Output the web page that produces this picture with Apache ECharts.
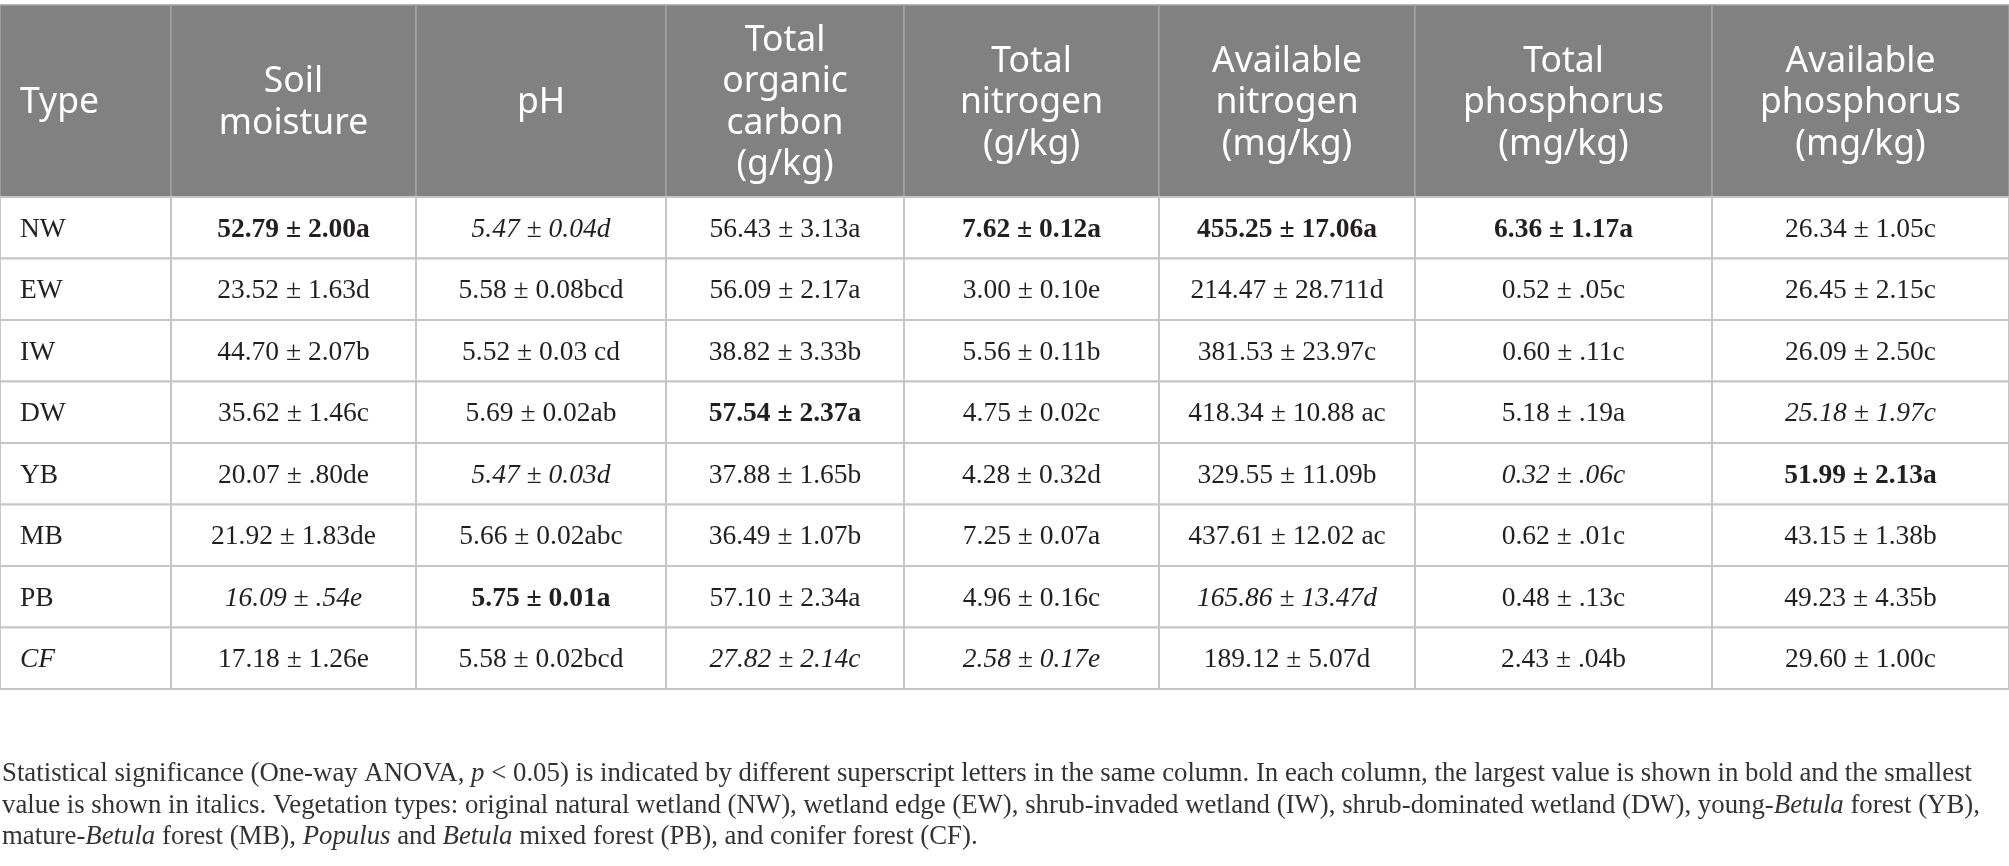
<!DOCTYPE html>
<html>
<head>
<meta charset="utf-8">
<script src="https://cdn.jsdelivr.net/npm/echarts@6/dist/echarts.min.js"></script>
<style>
  html, body { margin: 0; padding: 0; background: #fff; }
  #chart { width: 2009px; height: 866px; }
</style>
</head>
<body>
<div id="chart"></div>
<script>
// row labels and header texts
const types = ['NW', 'EW', 'IW', 'DW', 'YB', 'MB', 'PB', 'CF'];
const headers = ['Type', 'Soil\nmoisture', 'pH', 'Total\norganic\ncarbon\n(g/kg)', 'Total\nnitrogen\n(g/kg)',
  'Available\nnitrogen\n(mg/kg)', 'Total\nphosphorus\n(mg/kg)', 'Available\nphosphorus\n(mg/kg)'];

// means, sd and significance letters per column
const soilMoisture = [52.79, 23.52, 44.70, 35.62, 20.07, 21.92, 16.09, 17.18];
const soilMoistureSd = ['2.00', '1.63', '2.07', '1.46', '.80', '1.83', '.54', '1.26'];
const soilMoistureSig = ['a', 'd', 'b', 'c', 'de', 'de', 'e', 'e'];

const pH = [5.47, 5.58, 5.52, 5.69, 5.47, 5.66, 5.75, 5.58];
const pHSd = ['0.04', '0.08', '0.03', '0.02', '0.03', '0.02', '0.01', '0.02'];
const pHSig = ['d', 'bcd', ' cd', 'ab', 'd', 'abc', 'a', 'bcd'];

const organicCarbon = [56.43, 56.09, 38.82, 57.54, 37.88, 36.49, 57.10, 27.82];
const organicCarbonSd = ['3.13', '2.17', '3.33', '2.37', '1.65', '1.07', '2.34', '2.14'];
const organicCarbonSig = ['a', 'a', 'b', 'a', 'b', 'b', 'a', 'c'];

const totalN = [7.62, 3.00, 5.56, 4.75, 4.28, 7.25, 4.96, 2.58];
const totalNSd = ['0.12', '0.10', '0.11', '0.02', '0.32', '0.07', '0.16', '0.17'];
const totalNSig = ['a', 'e', 'b', 'c', 'd', 'a', 'c', 'e'];

const availN = [455.25, 214.47, 381.53, 418.34, 329.55, 437.61, 165.86, 189.12];
const availNSd = ['17.06', '28.711', '23.97', '10.88', '11.09', '12.02', '13.47', '5.07'];
const availNSig = ['a', 'd', 'c', ' ac', 'b', ' ac', 'd', 'd'];

const totalP = [6.36, 0.52, 0.60, 5.18, 0.32, 0.62, 0.48, 2.43];
const totalPSd = ['1.17', '.05', '.11', '.19', '.06', '.01', '.13', '.04'];
const totalPSig = ['a', 'c', 'c', 'a', 'c', 'c', 'c', 'b'];

const availP = [26.34, 26.45, 26.09, 25.18, 51.99, 43.15, 49.23, 29.60];
const availPSd = ['1.05', '2.15', '2.50', '1.97', '2.13', '1.38', '4.35', '1.00'];
const availPSig = ['c', 'c', 'c', 'c', 'a', 'b', 'b', 'c'];

// layout (px)
const colWidths = [171, 245, 250, 238, 255, 256, 297, 297];
const italicTypes = ['CF'];

const columns = [
  [soilMoisture, soilMoistureSd, soilMoistureSig],
  [pH, pHSd, pHSig],
  [organicCarbon, organicCarbonSd, organicCarbonSig],
  [totalN, totalNSd, totalNSig],
  [availN, availNSd, availNSig],
  [totalP, totalPSd, totalPSig],
  [availP, availPSd, availPSig]
];

const edges = [0];
colWidths.forEach(w => edges.push(edges[edges.length - 1] + w));
const totalW = edges[edges.length - 1];

const serif = '"Liberation Serif", "DejaVu Serif", serif';
const sans = '"Noto Sans", "Open Sans", sans-serif';

// cell data: [col, row]
const bodyData = [];
types.forEach((t, r) => {
  for (let c = 0; c < colWidths.length; c++) bodyData.push([c, r]);
});

function cellText(c, r) {
  if (c === 0) return types[r];
  const col = columns[c - 1];
  return col[0][r].toFixed(2) + ' \u00b1 ' + col[1][r] + col[2][r];
}
// largest mean bold, smallest italic
function cellStyle(c, r) {
  if (c === 0) return { weight: 'normal', style: italicTypes.includes(types[r]) ? 'italic' : 'normal' };
  const vals = columns[c - 1][0];
  const v = vals[r];
  if (v === Math.max(...vals)) return { weight: 'bold', style: 'normal' };
  if (v === Math.min(...vals)) return { weight: 'normal', style: 'italic' };
  return { weight: 'normal', style: 'normal' };
}

function cellBox(api, c) {
  const r = api.value(1);
  const p0 = api.coord([edges[c], r]);
  const p1 = api.coord([edges[c + 1], r]);
  const h = api.size([0, 1])[1];
  return { x: p0[0], y: p0[1] - h / 2, w: p1[0] - p0[0], h: h, cy: p0[1] };
}

const noteSize = 26.8;
const noteRich = { i: { fontStyle: 'italic', fontFamily: serif, fontSize: noteSize } };

const chart = echarts.init(document.getElementById('chart'));
chart.setOption({
  animation: false,
  grid: [
    { left: 0, right: 0, top: 5, height: 192 },
    { left: 0, right: 0, top: 197, height: 492 }
  ],
  xAxis: [
    { gridIndex: 0, type: 'value', min: 0, max: totalW, show: false },
    { gridIndex: 1, type: 'value', min: 0, max: totalW, show: false }
  ],
  yAxis: [
    { gridIndex: 0, type: 'category', data: ['head'], show: false },
    { gridIndex: 1, type: 'category', data: types, inverse: true, show: false }
  ],
  series: [
    {
      type: 'custom',
      xAxisIndex: 0, yAxisIndex: 0,
      data: headers.map((h, i) => [i, 0]),
      renderItem: function (params, api) {
        const c = api.value(0);
        const b = cellBox(api, c);
        return {
          type: 'group',
          children: [
            { type: 'rect', shape: { x: b.x, y: b.y, width: b.w, height: b.h },
              style: { fill: '#808180', stroke: '#a3a3a3', lineWidth: 1.5 } },
            { type: 'text', style: {
                text: headers[c], x: c === 0 ? b.x + 20 : b.x + b.w / 2, y: b.cy + 2,
                align: c === 0 ? 'left' : 'center', verticalAlign: 'middle',
                fontFamily: sans, fontSize: 35.5, lineHeight: 41.5, fill: '#ffffff' } }
          ]
        };
      }
    },
    {
      type: 'custom',
      xAxisIndex: 1, yAxisIndex: 1,
      data: bodyData,
      renderItem: function (params, api) {
        const c = api.value(0);
        const r = api.value(1);
        const b = cellBox(api, c);
        const st = cellStyle(c, r);
        return {
          type: 'group',
          children: [
            { type: 'rect', shape: { x: b.x, y: b.y, width: b.w, height: b.h },
              style: { fill: '#ffffff', stroke: '#c6c6c6', lineWidth: 2 } },
            { type: 'text', style: {
                text: cellText(c, r), x: c === 0 ? b.x + 20 : b.x + b.w / 2, y: b.cy + 2,
                align: c === 0 ? 'left' : 'center', verticalAlign: 'middle',
                fontFamily: serif, fontSize: 27.5, fontWeight: st.weight, fontStyle: st.style,
                fill: '#231f20' } }
          ]
        };
      }
    }
  ],
  graphic: [
    { type: 'text', left: 2, top: 760, style: {
        text: 'Statistical significance (One-way ANOVA, {i|p} < 0.05) is indicated by different superscript letters in the same column. In each column, the largest value is shown in bold and the smallest',
        fontFamily: serif, fontSize: noteSize, fill: '#333333', rich: noteRich } },
    { type: 'text', left: 2, top: 792, style: {
        text: 'value is shown in italics. Vegetation types: original natural wetland (NW), wetland edge (EW), shrub-invaded wetland (IW), shrub-dominated wetland (DW), young-{i|Betula} forest (YB),',
        fontFamily: serif, fontSize: noteSize, fill: '#333333', rich: noteRich } },
    { type: 'text', left: 2, top: 823, style: {
        text: 'mature-{i|Betula} forest (MB), {i|Populus} and {i|Betula} mixed forest (PB), and conifer forest (CF).',
        fontFamily: serif, fontSize: noteSize, fill: '#333333', rich: noteRich } }
  ]
});
</script>
</body>
</html>
